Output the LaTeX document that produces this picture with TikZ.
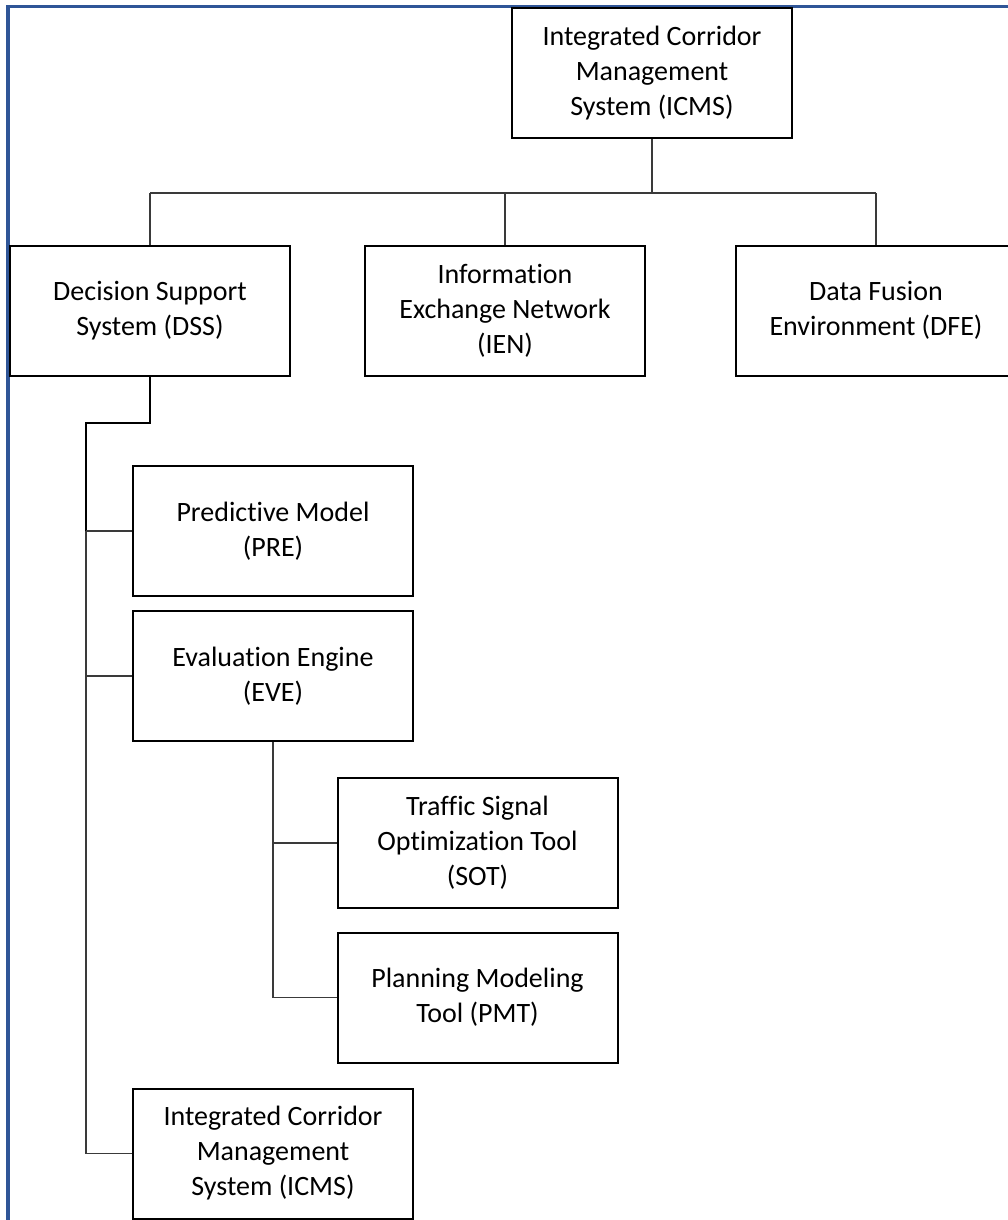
\documentclass[tikz,border=0pt]{standalone}
\usepackage{fontspec}
\setmainfont{Carlito}[Ligatures=NoCommon]
\usetikzlibrary{calc}
\definecolor{framecol}{HTML}{2F5597}
\definecolor{linkcol}{HTML}{3A3A3A}
\begin{document}
\begin{tikzpicture}[x=1pt,y=-1pt,
  box/.style={draw=black, line width=2pt, fill=white, minimum width=280pt,
    minimum height=130pt, inner sep=0pt, align=center,
    font=\fontsize{28}{35}\selectfont},
  link/.style={draw=linkcol, line width=1.4pt},
  stem/.style={draw=black, line width=1.8pt}]
\useasboundingbox (0,0) rectangle (1008,1220);
\clip (0,0) rectangle (1008,1220);
\fill[white] (0,0) rectangle (1008,1220);

% outer frame
\draw[framecol, line width=3.2pt] (8,6.5) rectangle (1030,1240);

% boxes
\node[box] (icms)  at (652,73)    {Integrated Corridor\\Management\\System (ICMS)};
\node[box] (dss)   at (150,310.5) {Decision Support\\System (DSS)};
\node[box] (ien)   at (505,310.5) {Information\\Exchange Network\\(IEN)};
\node[box] (dfe)   at (876,310.5) {Data Fusion\\Environment (DFE)};
\node[box] (pre)   at (273,531)   {Predictive Model\\(PRE)};
\node[box] (eve)   at (273,676)   {Evaluation Engine\\(EVE)};
\node[box] (sot)   at (477.5,843) {Traffic Signal\\Optimization Tool\\(SOT)};
\node[box] (pmt)   at (477.5,997.5) {Planning Modeling\\Tool (PMT)};
\node[box] (icmsb) at (273,1153.5) {Integrated Corridor\\Management\\System (ICMS)};

% routing points
\coordinate (hub)   at (652,193);
\coordinate (bend)  at (150,423);
\coordinate (spine) at (86,423);

% top level
\draw[link] (icms.south) -- (hub);
\draw[link] (dss.north |- hub) -- (dfe.north |- hub);
\draw[link] (dss.north |- hub) -- (dss.north);
\draw[link] (ien.north |- hub) -- (ien.north);
\draw[link] (dfe.north |- hub) -- (dfe.north);

% decision support branch
\draw[stem] (dss.south) -- (bend) -- (spine) -- (spine |- pre.west);
\draw[link] (spine |- pre.west) -- (spine |- icmsb.west) -- (icmsb.west);
\draw[link] (spine |- pre.west) -- (pre.west);
\draw[link] (spine |- eve.west) -- (eve.west);

% evaluation engine branch
\draw[link] (eve.south) -- (eve.south |- pmt.west) -- (pmt.west);
\draw[link] (eve.south |- sot.west) -- (sot.west);
\end{tikzpicture}
\end{document}
